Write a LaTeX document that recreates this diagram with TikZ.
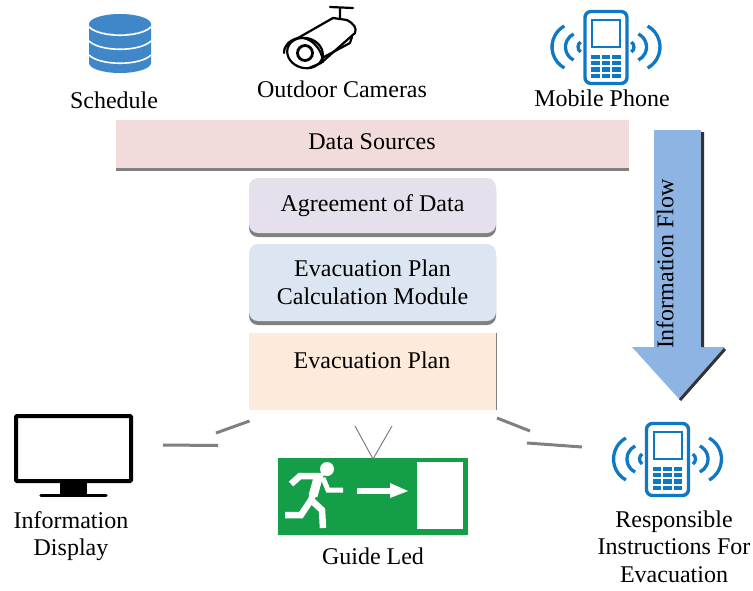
\documentclass[tikz,border=0pt]{standalone}
\usepackage{fontspec}
\setmainfont{Liberation Serif}
\usetikzlibrary{shadows}
\definecolor{iconblue}{HTML}{0F78C4}
\definecolor{dbblue}{HTML}{3F87C8}
\definecolor{signgreen}{HTML}{149E48}
\definecolor{flowblue}{HTML}{8EB4E3}
\definecolor{sourcefill}{RGB}{242,220,219}
\definecolor{agreefill}{RGB}{230,224,236}
\definecolor{modulefill}{RGB}{220,230,242}
\definecolor{planfill}{RGB}{253,234,218}
\tikzset{
  phone/.pic={
    \draw[iconblue,line width=3.4pt,rounded corners=6pt] (-21,-35.5) -- (21,-35.5) -- (21,36.5) -- (-21,36.5) -- cycle;
    \draw[iconblue,line width=2pt] (-14,-27) rectangle (14,0);
    \foreach \row in {0,1,2,3}
      \foreach \col in {-1,0,1}
        \fill[iconblue] (\col*10.5-4.2,8+\row*6.2) rectangle (\col*10.5+4.2,12.2+\row*6.2);
    \foreach \cen/\rad/\ang in {22/6/56,26/14.5/64,30/24/61} {
      \draw[iconblue,line width=3.3pt] (\cen,0) ++(-\ang:\rad) arc (-\ang:\ang:\rad);
      \draw[iconblue,line width=3.3pt] (-\cen,0) ++(180-\ang:\rad) arc (180-\ang:180+\ang:\rad);
    }
  }
}
\begin{document}
\begin{tikzpicture}[x=1pt,y=-1pt,
  font=\fontsize{24}{27.5}\selectfont,
  text node/.style={align=center,inner sep=0pt},
  plain box/.style={inner sep=0pt,align=center},
  main box/.style={plain box,minimum width=247pt,rounded corners=9pt,
    copy shadow={fill=gray,draw=none,shadow xshift=0pt,shadow yshift=-4pt}},
  link/.style={draw=gray,line width=3pt}]

  \useasboundingbox (0,0) rectangle (753,590);

  % sources row
  \fill[dbblue] (89,24) arc (180:360:31 and -10) -- (151,63) arc (0:-180:31 and -10) -- cycle;
  \fill[dbblue] (120,24) ellipse (31 and 10);
  \foreach \yy in {27,41,55}
    \draw[white,line width=1.6pt] (89,\yy) .. controls (100,\yy+11) and (140,\yy+11) .. (151,\yy);

  \begin{scope}[black,line width=2.2pt,line join=round,line cap=round]
    \draw (330,7) -- (353,8) (340,8) -- (340,18);
    \draw (298,38) -- (333,18) -- (347,20) .. controls (354,24) and (357,28) .. (355,33) -- (321,63) -- (309,68);
    \draw (352,37) -- (350,43) -- (322,58);
    \draw (284,53) .. controls (284,45) and (290,40) .. (298,38) .. controls (310,36) and (322,48) .. (323,62);
    \draw[rotate around={-15:(305,53)}] (305,53) ellipse (18 and 15);
    \draw[line width=2.8pt] (305,53) circle (7.5);
  \end{scope}

  \pic at (606,47) {phone};

  \node[text node] (schedule) at (114,100) {Schedule};
  \node[text node] (cameras) at (342,89.5) {Outdoor Cameras};
  \node[text node] (mobile) at (602,98.5) {Mobile Phone};

  % stacked boxes
  \node[plain box,minimum width=513pt,minimum height=48pt,fill=sourcefill,
    copy shadow={fill=gray,draw=none,shadow xshift=0pt,shadow yshift=-3pt}] (sources) at (372.5,144) {};
  \node[text node] (sourcestext) at (372,141.5) {Data Sources};
  \node[main box,minimum height=55pt,fill=agreefill] (agreement) at (372.5,205.5) {Agreement of Data};
  \node[main box,minimum height=77pt,fill=modulefill] (module) at (372.5,282.5) {Evacuation Plan\\Calculation Module};
  \node[plain box,minimum width=247pt,minimum height=77pt,fill=planfill] (plan) at (372.5,371.5) {};
  \draw[gray,line width=1.4pt] (plan.north east) -- (plan.south east);
  \node[text node] (plantext) at (372,360.5) {Evacuation Plan};

  % information flow arrow
  \fill[flowblue] (654,130) -- (701,130) -- (701,347) -- (725,347) -- (680,400) -- (632,347) -- (654,347) -- cycle;
  \draw[black!80,line width=3pt] (702.5,132) -- (702.5,347) (725,349) -- (680,400);
  \node[text node,rotate=90] (flow) at (665,264) {Information Flow};

  % outputs row
  \draw[black,line width=4pt,rounded corners=1pt] (16,416) rectangle (131,481);
  \fill[black] (60,482) rectangle (87,495);
  \draw[black,line width=3.4pt,line cap=round] (41,495.5) -- (106,495.5);
  \node[text node] (display) at (71,536) {Information\\Display};

  \node[plain box,minimum width=190pt,minimum height=77pt,fill=signgreen] (sign) at (373,496.5) {};
  \fill[white] (417,462) rectangle (463,529);
  \fill[white] (327,469) circle (7);
  \begin{scope}[white,line width=6.5pt,line join=miter]
    \draw (291,484) -- (300,476) -- (320,476) -- (311,500) -- (301,515) -- (285,515);
    \draw (311,500) -- (322,510) -- (323,528);
    \draw[line width=9pt] (318,478) -- (313,496);
    \draw[line width=5pt] (323,478) -- (328,490) -- (343,490);
    \draw[line width=6pt] (357,491) -- (392,491);
  \end{scope}
  \fill[white] (390,483) -- (408,491) -- (390,498) -- cycle;
  \node[text node] (guide) at (373,556) {Guide Led};

  \pic at (667.5,459) {phone};
  \node[text node] (responsible) at (674,546.5) {Responsible\\Instructions For\\Evacuation};

  % broken links
  \coordinate (l1) at (249.5,421);
  \coordinate (l2) at (216,433);
  \coordinate (l3) at (218,445.5);
  \coordinate (l4) at (163,445);
  \coordinate (m1) at (355,426);
  \coordinate (m2) at (373,459);
  \coordinate (m3) at (392,426);
  \coordinate (r1) at (497,418);
  \coordinate (r2) at (530,431);
  \coordinate (r3) at (527,443);
  \coordinate (r4) at (582,447);

  \path[link]
   (l1) edge (l2)
   (l3) edge (l4)
   (r1) edge (r2)
   (r3) edge (r4)
   (m1) edge[line width=1pt] (m2)
   (m3) edge[line width=1pt] (m2);
\end{tikzpicture}
\end{document}
